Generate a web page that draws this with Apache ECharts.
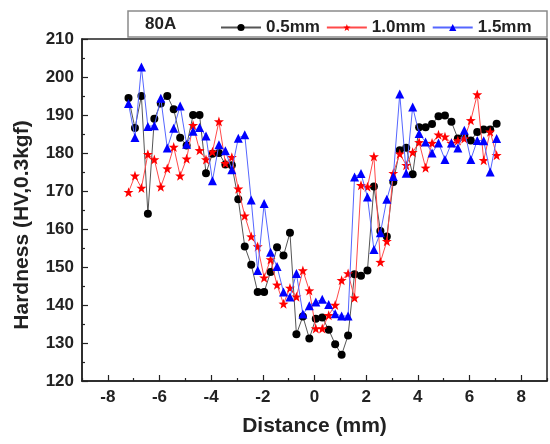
<!DOCTYPE html>
<html>
<head>
<meta charset="utf-8">
<script src="https://cdn.jsdelivr.net/npm/echarts@6/dist/echarts.min.js"></script>
<style>
  html, body { margin: 0; padding: 0; background: #fff; }
  #chart { width: 550px; height: 444px; }
</style>
</head>
<body>
<div id="chart"></div>
<script>
// Distance positions (mm)
const distance = [-7.2, -6.95, -6.7, -6.45, -6.2, -5.95, -5.7, -5.45, -5.2, -4.95,
    -4.7, -4.45, -4.2, -3.95, -3.7, -3.45, -3.2, -2.95, -2.7, -2.45,
    -2.2, -1.95, -1.7, -1.45, -1.2, -0.95, -0.7, -0.45, -0.2, 0.05,
    0.3, 0.55, 0.8, 1.05, 1.3, 1.55, 1.8, 2.05, 2.3, 2.55,
    2.8, 3.05, 3.3, 3.55, 3.8, 4.05, 4.3, 4.55, 4.8, 5.05,
    5.3, 5.55, 5.8, 6.05, 6.3, 6.55, 6.8, 7.05];

// Hardness values per plate thickness
const hard05 = [194.5, 186.6, 195, 164, 189, 193, 195, 191.5, 184, 182,
    190, 190, 174.7, 179.8, 180, 177, 176.8, 167.8, 155.4, 150.6,
    143.4, 143.4, 148.7, 155.2, 153, 159, 132.3, 137, 131.2, 136.4,
    136.7, 133.5, 129.7, 126.9, 132, 148.1, 147.7, 149.1, 171.2, 159.5,
    158, 172.4, 180.7, 181.4, 174.4, 186.8, 186.8, 187.6, 189.7, 189.9,
    188.2, 183.8, 184.5, 183.3, 185.5, 186.2, 186.2, 187.7];

const hard10 = [169.7, 174, 170.8, 179.7, 178.3, 171.1, 175.9, 181.6, 174, 178.5,
    187.3, 180.7, 178.3, 180.3, 188.3, 177.3, 178.9, 170.6, 163.5, 158,
    155.4, 147.2, 152, 145.3, 140.3, 144.5, 142.2, 149.1, 143.8, 133.8,
    133.8, 137.3, 140, 146.5, 148.3, 141.9, 171.5, 171.1, 179.1, 151.3,
    156.8, 174.7, 179.8, 176.8, 180.2, 182.8, 176.1, 182.6, 184.8, 184.3,
    182.6, 183.3, 183.8, 188.6, 195.4, 178.1, 185.6, 179.4];

const hard15 = [193, 184.1, 202.6, 187, 187.2, 194.4, 181.3, 186.5, 192.4, 182.3,
    185.7, 186.7, 184.5, 172.7, 182.2, 180.6, 175.6, 183.9, 184.8, 167.6,
    149.1, 166.7, 153.9, 150.1, 143.4, 142.1, 148.3, 137.6, 139.8, 140.8,
    141.5, 140.1, 137.7, 137.1, 137.1, 173.7, 174.6, 168.4, 154.6, 159,
    167.8, 173.8, 195.5, 174.7, 192.1, 185.1, 182.9, 180, 182.6, 178.3,
    182.6, 181.3, 186, 178.3, 183.3, 183.2, 175, 183.8];

const seriesNames = ['0.5mm', '1.0mm', '1.5mm'];
const majorTicks = [-8, -6, -4, -2, 0, 2, 4, 6, 8];
const minorTicks = [-9, -7, -5, -3, -1, 1, 3, 5, 7, 9];

const FONT = '"Liberation Sans", Arial, sans-serif';
const STAR = 'path://M0,-10L2.35,-3.24L9.51,-3.09L3.8,1.24L5.88,8.09L0,4L-5.88,8.09L-3.8,1.24L-9.51,-3.09L-2.35,-3.24Z';

function pairs(ys) {
    return distance.map((x, i) => [x, ys[i]]);
}

const chart = echarts.init(document.getElementById('chart'));

const option = {
    animation: false,
    backgroundColor: '#fff',
    grid: {
        left: 82, right: 3, top: 39, bottom: 63,
        show: true,
        borderColor: '#222',
        borderWidth: 1.5
    },
    graphic: [
        {
            type: 'rect',
            shape: { x: 128, y: 11, width: 419, height: 26 },
            style: { fill: '#fff', stroke: '#8a8a8a', lineWidth: 1.5 },
            z: 0
        },
        {
            type: 'text',
            left: 145, top: 16,
            style: { text: '80A', font: 'bold 17px ' + FONT, fill: '#222' },
            z: 5
        }
    ],
    legend: {
        data: seriesNames,
        left: 215,
        top: 14,
        itemWidth: 40,
        itemHeight: 9,
        itemGap: 6,
        textStyle: { fontFamily: FONT, fontWeight: 'bold', fontSize: 17, color: '#222' },
        z: 5
    },
    xAxis: [
        {
            type: 'value',
            min: -9, max: 9, interval: 1,
            name: 'Distance (mm)',
            nameLocation: 'middle',
            nameGap: 35,
            nameTextStyle: { fontFamily: FONT, fontWeight: 'bold', fontSize: 21, color: '#222' },
            axisLine: { lineStyle: { color: '#222', width: 1.5 } },
            axisTick: { inside: true, length: 6, customValues: majorTicks, lineStyle: { color: '#222', width: 1.2 } },
            axisLabel: { customValues: majorTicks, margin: 8, fontFamily: FONT, fontWeight: 'bold', fontSize: 17, color: '#222' },
            splitLine: { show: false }
        },
        {
            type: 'value',
            position: 'bottom',
            min: -9, max: 9, interval: 1,
            axisLine: { show: false },
            axisTick: { inside: true, length: 3, customValues: minorTicks, lineStyle: { color: '#222', width: 1.2 } },
            axisLabel: { show: false },
            splitLine: { show: false }
        }
    ],
    yAxis: {
        type: 'value',
        min: 120, max: 210, interval: 10,
        name: 'Hardness (HV,0.3kgf)',
        nameLocation: 'middle',
        nameGap: 49,
        nameTextStyle: { fontFamily: FONT, fontWeight: 'bold', fontSize: 21, color: '#222', padding: [0, 30, 0, 0] },
        axisLine: { show: true, onZero: false, lineStyle: { color: '#222', width: 1.5 } },
        axisTick: { inside: true, length: 6, lineStyle: { color: '#222', width: 1.2 } },
        minorTick: { show: true, splitNumber: 2, length: 3, lineStyle: { color: '#222', width: 1.2 } },
        axisLabel: { margin: 8, fontFamily: FONT, fontWeight: 'bold', fontSize: 17, color: '#222' },
        splitLine: { show: false }
    },
    series: [
        {
            name: seriesNames[0],
            type: 'line',
            data: pairs(hard05),
            symbol: 'circle',
            symbolSize: 8,
            itemStyle: { color: '#000' },
            lineStyle: { color: '#555', width: 1 },
            z: 2
        },
        {
            name: seriesNames[1],
            type: 'line',
            data: pairs(hard10),
            symbol: STAR,
            symbolSize: 10,
            itemStyle: { color: '#ff0000' },
            lineStyle: { color: '#ff4a4a', width: 1 },
            z: 3
        },
        {
            name: seriesNames[2],
            type: 'line',
            data: pairs(hard15),
            symbol: 'triangle',
            symbolSize: 9,
            itemStyle: { color: '#0000ff' },
            lineStyle: { color: '#5566ff', width: 1 },
            z: 4
        }
    ]
};

chart.setOption(option);
</script>
</body>
</html>
